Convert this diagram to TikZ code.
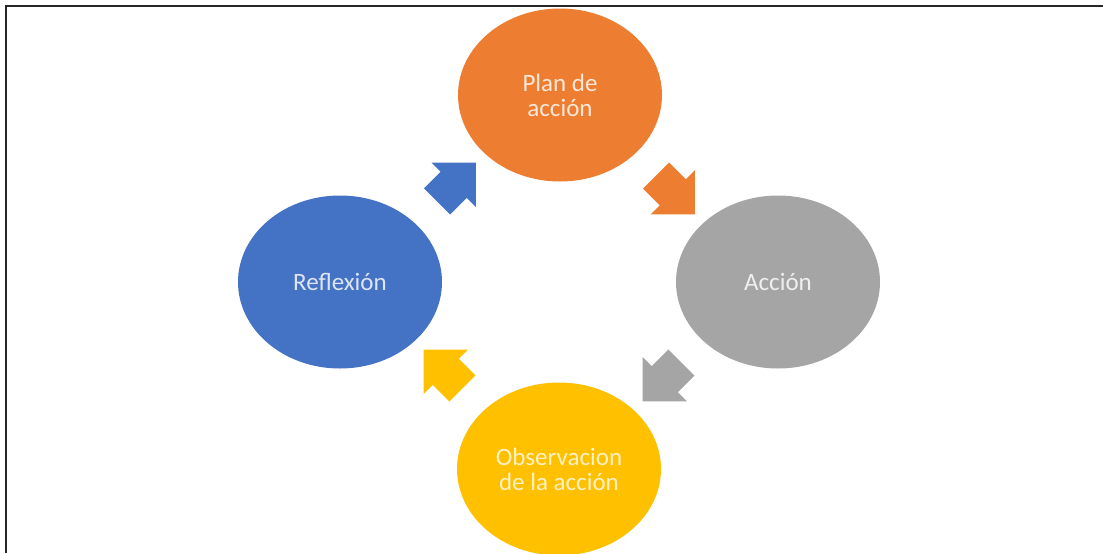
\documentclass[tikz,border=0pt]{standalone}
\usepackage{fontspec}
\setmainfont{Carlito}
\usepackage{tikz}
\usetikzlibrary{calc,shapes.geometric,shapes.arrows}

\definecolor{planc}{HTML}{ED7D31}
\definecolor{accc}{HTML}{A5A5A5}
\definecolor{obsc}{HTML}{FFC000}
\definecolor{refc}{HTML}{4472C4}

\begin{document}
\begin{tikzpicture}[x=0.5pt,y=-0.5pt,
		stage/.style={shape=ellipse,draw=none,inner sep=0pt,minimum width=102pt,minimum height=86.5pt,align=center,font=\fontsize{12.5}{12.5}\selectfont},
		turn/.style={shape=single arrow,draw=none,inner xsep=0pt,inner ysep=9pt,minimum height=27.5pt,single arrow head extend=6.5pt,single arrow tip angle=90}]
			\useasboundingbox (0,0) rectangle (1103,553);
			
			%four stages
			\node[stage,fill=planc,text=planc!18!white] (plan) at (560,95) {Plan de\\acción};
			\node[stage,fill=accc,text=accc!18!white] (accion) at (778,282) {Acción};
			\node[stage,fill=obsc,text=obsc!22!white] (obs) at (559,469) {Observacion\\de la acción};
			\node[stage,fill=refc,text=refc!18!white] (reflex) at (340,282) {Reflexión};
			
			%block arrows between stages
			\node[turn,fill=refc,rotate=45] (a1) at ($(reflex)!0.5!(plan)$) {};
			\node[turn,fill=planc,rotate=-45] (a2) at ($(plan)!0.5!(accion)$) {};
			\node[turn,fill=accc,rotate=-135] (a3) at ($(accion)!0.5!(obs)$) {};
			\node[turn,fill=obsc,rotate=135] (a4) at ($(obs)!0.5!(reflex)$) {};
			
			%frame
			\draw[line width=1pt,black!85] (6,553) -- (6,6) -- (1103,6);
\end{tikzpicture}
\end{document}
